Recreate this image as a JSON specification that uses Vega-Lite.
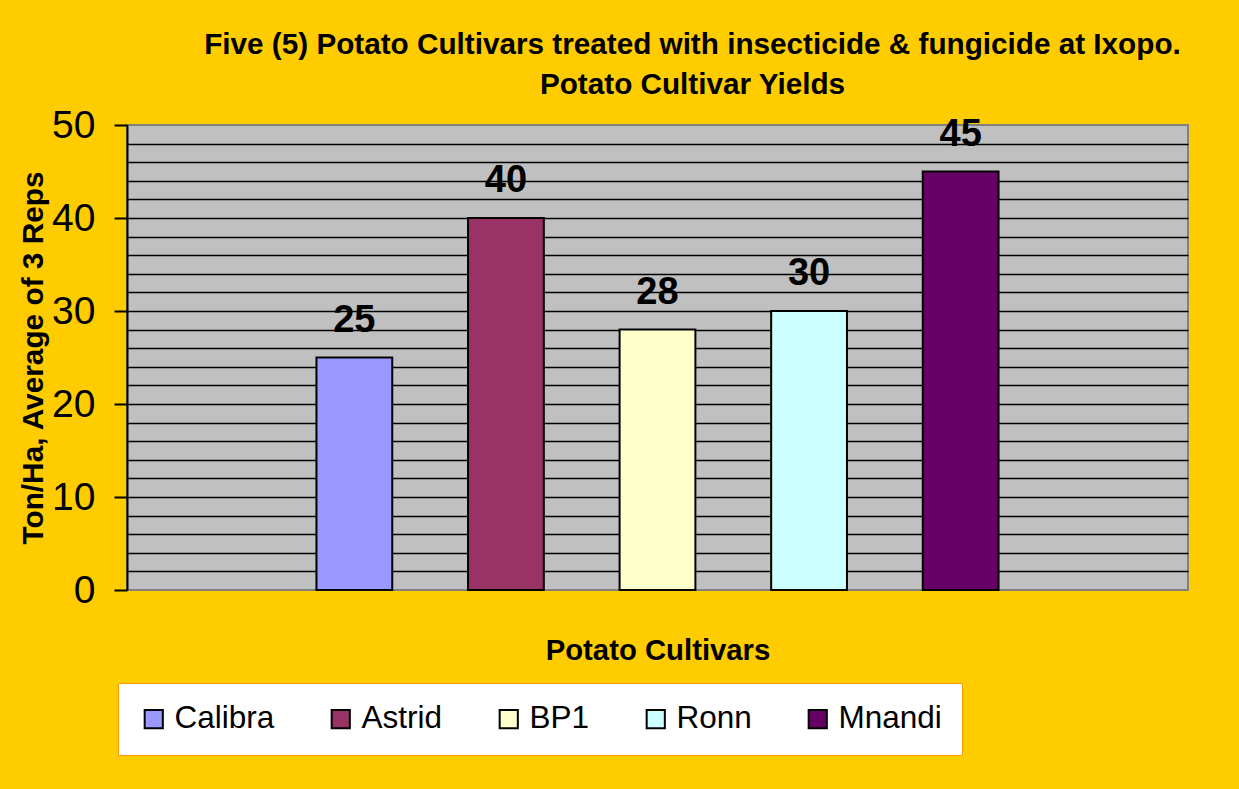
{
  "$schema": "https://vega.github.io/schema/vega-lite/v6.json",
  "width": 1061,
  "height": 465,
  "autosize": "none",
  "padding": {"left": 127, "top": 125, "right": 51, "bottom": 199},
  "background": "#FFCC00",
  "config": {
    "font": "Liberation Sans",
    "view": {"fill": "#C0C0C0", "stroke": "#808080", "strokeWidth": 2},
    "legend": {"strokeColor": "#FF9900"}
  },
  "title": {
    "text": ["Five (5) Potato Cultivars treated with insecticide & fungicide at Ixopo.", "Potato Cultivar Yields"],
    "fontSize": 29.7,
    "fontWeight": "bold",
    "lineHeight": 40,
    "anchor": "middle",
    "frame": "group",
    "dx": 35,
    "offset": 5,
    "color": "black",
    "font": "Liberation Sans"
  },
  "data": {
    "values": [
      {"cultivar": "Calibra", "yield": 25},
      {"cultivar": "Astrid", "yield": 40},
      {"cultivar": "BP1", "yield": 28},
      {"cultivar": "Ronn", "yield": 30},
      {"cultivar": "Mnandi", "yield": 45}
    ]
  },
  "encoding": {
    "x": {
      "field": "cultivar",
      "type": "nominal",
      "sort": null,
      "scale": {"domain": ["_L", "Calibra", "Astrid", "BP1", "Ronn", "Mnandi", "_R"], "paddingInner": 0.5, "paddingOuter": 0.25},
      "axis": {
        "labels": false,
        "ticks": false,
        "domain": false,
        "grid": false,
        "title": "Potato Cultivars",
        "titleFontSize": 29.3,
        "titleFontWeight": "bold",
        "titleColor": "black",
        "titlePadding": 46,
        "titleFont": "Liberation Sans"
      }
    },
    "y": {
      "field": "yield",
      "type": "quantitative",
      "scale": {"domain": [0, 50], "nice": false},
      "axis": {
        "values": [0, 2, 4, 6, 8, 10, 12, 14, 16, 18, 20, 22, 24, 26, 28, 30, 32, 34, 36, 38, 40, 42, 44, 46, 48, 50],
        "labelExpr": "datum.value % 10 === 0 ? datum.label : ''",
        "labelFontSize": 39,
        "labelColor": "black",
        "labelPadding": 19,
        "labelFont": "Liberation Sans",
        "tickSize": 13,
        "tickWidth": 2,
        "tickColor": "black",
        "tickOpacity": {"condition": {"test": "datum.value % 10 === 0", "value": 1}, "value": 0},
        "domainColor": "black",
        "domainWidth": 2,
        "grid": true,
        "gridColor": "black",
        "gridWidth": 1.5,
        "gridOpacity": {"condition": {"test": "datum.value > 0 && datum.value < 50", "value": 1}, "value": 0},
        "title": "Ton/Ha, Average of 3 Reps",
        "titleFontSize": 29.8,
        "titleFontWeight": "bold",
        "titleColor": "black",
        "titlePadding": 3,
        "titleFont": "Liberation Sans"
      }
    }
  },
  "layer": [
    {
      "mark": {"type": "bar", "stroke": "black", "strokeWidth": 2},
      "encoding": {
        "color": {
          "field": "cultivar",
          "type": "nominal",
          "scale": {
            "domain": ["Calibra", "Astrid", "BP1", "Ronn", "Mnandi"],
            "range": ["#9999FF", "#993366", "#FFFFCC", "#CCFFFF", "#660066"]
          },
          "legend": {
            "orient": "none",
            "legendX": -9,
            "legendY": 558,
            "direction": "horizontal",
            "columns": 5,
            "title": null,
            "symbolType": "square",
            "symbolSize": 330,
            "symbolStrokeColor": "black",
            "symbolStrokeWidth": 2,
            "symbolOpacity": 1,
            "labelFontSize": 31.5,
            "labelColor": "black",
            "labelFont": "Liberation Sans",
            "labelOffset": 5,
            "columnPadding": 50,
            "padding": 20,
            "fillColor": "white",
            "strokeColor": "#FF9900"
          }
        }
      }
    },
    {
      "mark": {"type": "text", "baseline": "alphabetic", "dy": -26, "fontSize": 38, "fontWeight": "bold", "color": "black", "font": "Liberation Sans"},
      "encoding": {
        "text": {"field": "yield", "type": "quantitative"}
      }
    }
  ]
}
